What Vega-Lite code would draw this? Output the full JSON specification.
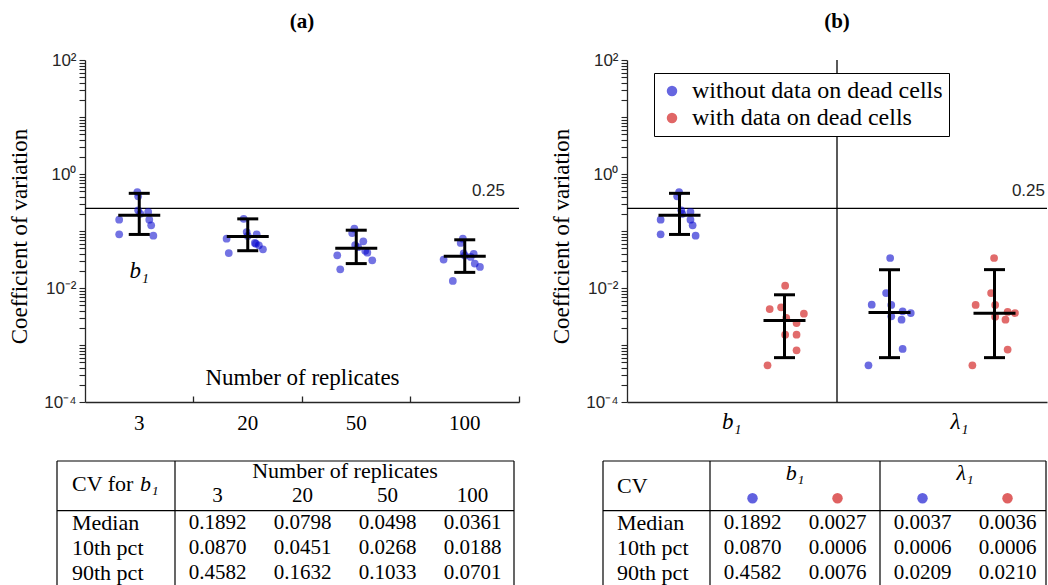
{
  "$schema": "https://vega.github.io/schema/vega-lite/v6.json",
  "padding": {"left": 8, "top": 11, "right": 0, "bottom": 0},
  "bounds": "flush",
  "columns": 2,
  "spacing": {"row": 59, "column": 108},
  "config": {
    "view": {"stroke": null},
    "font": "Liberation Serif",
    "text": {"font": "Liberation Serif", "color": "black"},
    "axis": {"ticks": true}
  },
  "resolve": {"scale": {"color": "independent"}, "legend": {"color": "independent"}},
  "datasets": {
    "points_a": [
      {"group": "3", "jitter": -0.07, "cv": 0.483},
      {"group": "3", "jitter": -0.04, "cv": 0.406},
      {"group": "3", "jitter": -0.04, "cv": 0.231},
      {"group": "3", "jitter": 0.33, "cv": 0.216},
      {"group": "3", "jitter": -0.74, "cv": 0.158},
      {"group": "3", "jitter": 0.37, "cv": 0.158},
      {"group": "3", "jitter": 0.44, "cv": 0.126},
      {"group": "3", "jitter": -0.74, "cv": 0.0875},
      {"group": "3", "jitter": 0.52, "cv": 0.0827},
      {"group": "3", "jitter": 0.04, "cv": 0.2},
      {"group": "20", "jitter": -0.15, "cv": 0.164},
      {"group": "20", "jitter": -0.04, "cv": 0.096},
      {"group": "20", "jitter": 0.33, "cv": 0.0875},
      {"group": "20", "jitter": -0.78, "cv": 0.0733},
      {"group": "20", "jitter": 0.26, "cv": 0.0616},
      {"group": "20", "jitter": 0.41, "cv": 0.0561},
      {"group": "20", "jitter": 0.56, "cv": 0.0477},
      {"group": "20", "jitter": -0.7, "cv": 0.0411},
      {"group": "20", "jitter": 0.0, "cv": 0.082},
      {"group": "20", "jitter": 0.3, "cv": 0.06},
      {"group": "50", "jitter": -0.07, "cv": 0.1096},
      {"group": "50", "jitter": -0.15, "cv": 0.0922},
      {"group": "50", "jitter": 0.26, "cv": 0.066},
      {"group": "50", "jitter": -0.04, "cv": 0.0568},
      {"group": "50", "jitter": -0.7, "cv": 0.0375},
      {"group": "50", "jitter": 0.41, "cv": 0.0416},
      {"group": "50", "jitter": 0.59, "cv": 0.0306},
      {"group": "50", "jitter": -0.59, "cv": 0.0213},
      {"group": "50", "jitter": 0.07, "cv": 0.052},
      {"group": "50", "jitter": 0.33, "cv": 0.045},
      {"group": "100", "jitter": -0.07, "cv": 0.0733},
      {"group": "100", "jitter": -0.15, "cv": 0.0616},
      {"group": "100", "jitter": -0.04, "cv": 0.0403},
      {"group": "100", "jitter": 0.33, "cv": 0.0395},
      {"group": "100", "jitter": -0.78, "cv": 0.0316},
      {"group": "100", "jitter": 0.37, "cv": 0.0269},
      {"group": "100", "jitter": 0.56, "cv": 0.0234},
      {"group": "100", "jitter": -0.44, "cv": 0.0133},
      {"group": "100", "jitter": 0.0, "cv": 0.037},
      {"group": "100", "jitter": 0.22, "cv": 0.035}
    ],
    "stats_a": [
      {"group": "3", "Median": 0.1892, "10th pct": 0.0870, "90th pct": 0.4582},
      {"group": "20", "Median": 0.0798, "10th pct": 0.0451, "90th pct": 0.1632},
      {"group": "50", "Median": 0.0498, "10th pct": 0.0268, "90th pct": 0.1033},
      {"group": "100", "Median": 0.0361, "10th pct": 0.0188, "90th pct": 0.0701}
    ],
    "points_b": [
      {"slot": "b₁ without", "series": "without data on dead cells", "jitter": -0.08, "cv": 0.483},
      {"slot": "b₁ without", "series": "without data on dead cells", "jitter": -0.15, "cv": 0.406},
      {"slot": "b₁ without", "series": "without data on dead cells", "jitter": 0.0, "cv": 0.231},
      {"slot": "b₁ without", "series": "without data on dead cells", "jitter": 0.34, "cv": 0.216},
      {"slot": "b₁ without", "series": "without data on dead cells", "jitter": -0.76, "cv": 0.158},
      {"slot": "b₁ without", "series": "without data on dead cells", "jitter": 0.34, "cv": 0.158},
      {"slot": "b₁ without", "series": "without data on dead cells", "jitter": 0.42, "cv": 0.126},
      {"slot": "b₁ without", "series": "without data on dead cells", "jitter": -0.76, "cv": 0.0875},
      {"slot": "b₁ without", "series": "without data on dead cells", "jitter": 0.53, "cv": 0.0827},
      {"slot": "b₁ without", "series": "without data on dead cells", "jitter": 0.04, "cv": 0.2},
      {"slot": "b₁ with", "series": "with data on dead cells", "jitter": -0.04, "cv": 0.01097},
      {"slot": "b₁ with", "series": "with data on dead cells", "jitter": -0.61, "cv": 0.00428},
      {"slot": "b₁ with", "series": "with data on dead cells", "jitter": -0.19, "cv": 0.00459},
      {"slot": "b₁ with", "series": "with data on dead cells", "jitter": 0.65, "cv": 0.00354},
      {"slot": "b₁ with", "series": "with data on dead cells", "jitter": 0.0, "cv": 0.00298},
      {"slot": "b₁ with", "series": "with data on dead cells", "jitter": 0.38, "cv": 0.00243},
      {"slot": "b₁ with", "series": "with data on dead cells", "jitter": -0.04, "cv": 0.00152},
      {"slot": "b₁ with", "series": "with data on dead cells", "jitter": 0.38, "cv": 0.00152},
      {"slot": "b₁ with", "series": "with data on dead cells", "jitter": 0.38, "cv": 0.000807},
      {"slot": "b₁ with", "series": "with data on dead cells", "jitter": -0.69, "cv": 0.000441},
      {"slot": "λ₁ without", "series": "without data on dead cells", "jitter": -0.04, "cv": 0.0336},
      {"slot": "λ₁ without", "series": "without data on dead cells", "jitter": -0.19, "cv": 0.00817},
      {"slot": "λ₁ without", "series": "without data on dead cells", "jitter": -0.72, "cv": 0.0051},
      {"slot": "λ₁ without", "series": "without data on dead cells", "jitter": 0.0, "cv": 0.00504},
      {"slot": "λ₁ without", "series": "without data on dead cells", "jitter": 0.42, "cv": 0.0039},
      {"slot": "λ₁ without", "series": "without data on dead cells", "jitter": 0.72, "cv": 0.00364},
      {"slot": "λ₁ without", "series": "without data on dead cells", "jitter": 0.0, "cv": 0.00319},
      {"slot": "λ₁ without", "series": "without data on dead cells", "jitter": 0.38, "cv": 0.00278},
      {"slot": "λ₁ without", "series": "without data on dead cells", "jitter": 0.42, "cv": 0.000851},
      {"slot": "λ₁ without", "series": "without data on dead cells", "jitter": -0.84, "cv": 0.000441},
      {"slot": "λ₁ with", "series": "with data on dead cells", "jitter": -0.08, "cv": 0.0336},
      {"slot": "λ₁ with", "series": "with data on dead cells", "jitter": -0.19, "cv": 0.00817},
      {"slot": "λ₁ with", "series": "with data on dead cells", "jitter": -0.76, "cv": 0.00504},
      {"slot": "λ₁ with", "series": "with data on dead cells", "jitter": -0.04, "cv": 0.00504},
      {"slot": "λ₁ with", "series": "with data on dead cells", "jitter": 0.42, "cv": 0.0038},
      {"slot": "λ₁ with", "series": "with data on dead cells", "jitter": 0.69, "cv": 0.00364},
      {"slot": "λ₁ with", "series": "with data on dead cells", "jitter": -0.04, "cv": 0.00314},
      {"slot": "λ₁ with", "series": "with data on dead cells", "jitter": 0.34, "cv": 0.00278},
      {"slot": "λ₁ with", "series": "with data on dead cells", "jitter": 0.42, "cv": 0.00083},
      {"slot": "λ₁ with", "series": "with data on dead cells", "jitter": -0.88, "cv": 0.000441}
    ],
    "stats_b": [
      {"slot": "b₁ without", "series": "without data on dead cells", "Median": 0.1892, "10th pct": 0.0870, "90th pct": 0.4582},
      {"slot": "b₁ with", "series": "with data on dead cells", "Median": 0.0027, "10th pct": 0.0006, "90th pct": 0.0076},
      {"slot": "λ₁ without", "series": "without data on dead cells", "Median": 0.0037, "10th pct": 0.0006, "90th pct": 0.0209},
      {"slot": "λ₁ with", "series": "with data on dead cells", "Median": 0.0036, "10th pct": 0.0006, "90th pct": 0.0210}
    ]
  },
  "concat": [
    {
      "width": 434,
      "height": 342,
      "title": {"text": "(a)", "font": "Liberation Serif", "fontSize": 21, "fontWeight": "bold", "color": "black", "frame": "group", "anchor": "middle", "offset": 19},
      "layer": [
        {
          "data": {"values": [{"cv": 0.25}]},
          "mark": {"type": "rule", "color": "black", "strokeWidth": 1.3},
          "encoding": {"y": {"field": "cv", "type": "quantitative"}}
        },
        {
          "data": {"name": "points_a"},
          "mark": {"type": "circle", "size": 60, "opacity": 0.55, "color": "#0000cc"},
          "encoding": {
            "x": {
              "field": "group", "type": "nominal",
              "scale": {"domain": ["3", "20", "50", "100"], "paddingInner": 0, "paddingOuter": 0},
              "axis": {
                "title": "Number of replicates", "titleY": -25, "titleBaseline": "middle",
                "titleFont": "Liberation Serif", "titleFontSize": 23, "titleFontWeight": "normal", "titleColor": "black",
                "labelAngle": 0, "labelFont": "Liberation Serif", "labelFontSize": 21, "labelColor": "black",
                "labelPadding": 16, "ticks": true, "tickSize": -6, "bandPosition": 1, "tickColor": "#262626", "tickWidth": 1.3,
                "domainColor": "#262626", "domainWidth": 1.3, "grid": false
              }
            },
            "xOffset": {"field": "jitter", "type": "quantitative", "scale": {"domain": [-2, 2]}},
            "y": {
              "field": "cv", "type": "quantitative",
              "scale": {"type": "log", "domain": [0.0001, 100], "nice": false},
              "axis": {
                "values": [0.0001,0.0002,0.0003,0.0004,0.0005,0.0006,0.0007,0.0008,0.0009,0.001,0.002,0.003,0.004,0.005,0.006,0.007,0.008,0.009,0.01,0.02,0.03,0.04,0.05,0.06,0.07,0.08,0.09,0.1,0.2,0.3,0.4,0.5,0.6,0.7,0.8,0.9,1,2,3,4,5,6,7,8,9,10,20,30,40,50,60,70,80,90,100],
                "labelExpr": "datum.value > 99 ? '10²' : abs(datum.value - 1) < 1e-6 ? '10⁰' : abs(datum.value - 0.01) < 1e-8 ? '10⁻²' : abs(datum.value - 0.0001) < 1e-10 ? '10⁻⁴' : ''",
                "labelFont": "Liberation Sans", "labelFontSize": 17, "labelColor": "#262626", "labelPadding": 3,
                "labelOverlap": false, "labelFlush": false,
                "ticks": true, "tickSize": 6, "tickColor": "#262626", "tickWidth": 1.1,
                "encode": {"ticks": {"update": {"x2": {"signal": "abs(log(datum.value)/LN10 - round(log(datum.value)/LN10)) < 0.01 ? 6 : 3.5"}}}},
                "domainColor": "#262626", "domainWidth": 1.3, "grid": false,
                "title": "Coefficient of variation", "titleFont": "Liberation Serif", "titleFontSize": 23,
                "titleFontWeight": "normal", "titleColor": "black", "titleX": -66, "titleY": 176, "titleBaseline": "middle"
              }
            }
          }
        },
        {
          "data": {"name": "stats_a"},
          "mark": {"type": "rule", "color": "black", "strokeWidth": 3},
          "encoding": {
            "x": {"field": "group", "type": "nominal"},
            "y": {"field": "10th pct", "type": "quantitative"},
            "y2": {"field": "90th pct"}
          }
        },
        {
          "data": {"name": "stats_a"},
          "mark": {"type": "tick", "color": "black", "size": 42, "thickness": 3, "opacity": 1},
          "encoding": {"x": {"field": "group", "type": "nominal"}, "y": {"field": "Median", "type": "quantitative"}}
        },
        {
          "data": {"name": "stats_a"},
          "mark": {"type": "tick", "color": "black", "size": 21, "thickness": 3, "opacity": 1},
          "encoding": {"x": {"field": "group", "type": "nominal"}, "y": {"field": "10th pct", "type": "quantitative"}}
        },
        {
          "data": {"name": "stats_a"},
          "mark": {"type": "tick", "color": "black", "size": 21, "thickness": 3, "opacity": 1},
          "encoding": {"x": {"field": "group", "type": "nominal"}, "y": {"field": "90th pct", "type": "quantitative"}}
        },
        {
          "data": {"values": [{"label": "0.25", "cv": 0.25}]},
          "mark": {"type": "text", "font": "Liberation Sans", "fontSize": 17, "color": "#262626", "align": "right", "baseline": "middle", "dx": -14, "dy": -17},
          "encoding": {
            "x": {"datum": "100", "type": "nominal", "bandPosition": 1},
            "y": {"field": "cv", "type": "quantitative"},
            "text": {"field": "label"}
          }
        },
        {
          "data": {"values": [{"label": "b₁", "group": "3", "cv": 0.02}]},
          "mark": {"type": "text", "fontSize": 23, "fontStyle": "italic", "align": "center", "baseline": "middle"},
          "encoding": {
            "x": {"field": "group", "type": "nominal"},
            "y": {"field": "cv", "type": "quantitative"},
            "text": {"field": "label"}
          }
        }
      ]
    },
    {
      "width": 420,
      "height": 342,
      "title": {"text": "(b)", "font": "Liberation Serif", "fontSize": 21, "fontWeight": "bold", "color": "black", "frame": "group", "anchor": "middle", "offset": 19},
      "layer": [
        {
          "data": {"values": [{"cv": 0.25}]},
          "mark": {"type": "rule", "color": "black", "strokeWidth": 1.3},
          "encoding": {"y": {"field": "cv", "type": "quantitative"}}
        },
        {
          "data": {"values": [{"slot": "λ₁ without"}]},
          "mark": {"type": "rule", "color": "black", "strokeWidth": 1.3},
          "encoding": {"x": {"field": "slot", "type": "nominal", "bandPosition": 0}}
        },
        {
          "data": {"name": "points_b"},
          "mark": {"type": "circle", "size": 60, "opacity": 0.58},
          "encoding": {
            "x": {
              "field": "slot", "type": "nominal",
              "scale": {"domain": ["b₁ without", "b₁ with", "λ₁ without", "λ₁ with"], "paddingInner": 0, "paddingOuter": 0},
              "axis": {
                "title": null, "ticks": false, "labelAngle": 0,
                "labelExpr": "datum.value == 'b₁ without' ? 'b₁' : datum.value == 'λ₁ without' ? 'λ₁' : ''",
                "labelOffset": {"condition": {"test": "datum.value == 'b₁ without'", "value": 62}, "value": 79},
                "labelFont": "Liberation Serif", "labelFontStyle": "italic", "labelFontSize": 23,
                "labelColor": "black", "labelPadding": 19, "domainColor": "#262626", "domainWidth": 1.3, "grid": false
              }
            },
            "xOffset": {"field": "jitter", "type": "quantitative", "scale": {"domain": [-2, 2]}},
            "y": {
              "field": "cv", "type": "quantitative",
              "scale": {"type": "log", "domain": [0.0001, 100], "nice": false},
              "axis": {
                "values": [0.0001,0.0002,0.0003,0.0004,0.0005,0.0006,0.0007,0.0008,0.0009,0.001,0.002,0.003,0.004,0.005,0.006,0.007,0.008,0.009,0.01,0.02,0.03,0.04,0.05,0.06,0.07,0.08,0.09,0.1,0.2,0.3,0.4,0.5,0.6,0.7,0.8,0.9,1,2,3,4,5,6,7,8,9,10,20,30,40,50,60,70,80,90,100],
                "labelExpr": "datum.value > 99 ? '10²' : abs(datum.value - 1) < 1e-6 ? '10⁰' : abs(datum.value - 0.01) < 1e-8 ? '10⁻²' : abs(datum.value - 0.0001) < 1e-10 ? '10⁻⁴' : ''",
                "labelFont": "Liberation Sans", "labelFontSize": 17, "labelColor": "#262626", "labelPadding": 3,
                "labelOverlap": false, "labelFlush": false,
                "ticks": true, "tickSize": 6, "tickColor": "#262626", "tickWidth": 1.1,
                "encode": {"ticks": {"update": {"x2": {"signal": "abs(log(datum.value)/LN10 - round(log(datum.value)/LN10)) < 0.01 ? 6 : 3.5"}}}},
                "domainColor": "#262626", "domainWidth": 1.3, "grid": false,
                "title": "Coefficient of variation", "titleFont": "Liberation Serif", "titleFontSize": 23,
                "titleFontWeight": "normal", "titleColor": "black", "titleX": -66, "titleY": 176, "titleBaseline": "middle"
              }
            },
            "color": {
              "field": "series", "type": "nominal",
              "scale": {"domain": ["without data on dead cells", "with data on dead cells"], "range": ["#0000cc", "#cc0000"]},
              "legend": {
                "title": null, "orient": "none", "legendX": 27, "legendY": 13, "direction": "vertical",
                "strokeColor": "black", "fillColor": "white", "padding": 6, "rowPadding": 3,
                "symbolType": "circle", "symbolSize": 110, "symbolOpacity": 0.6, "symbolStrokeWidth": 0,
                "labelFont": "Liberation Serif", "labelFontSize": 24, "labelColor": "black", "labelOffset": 8,
                "labelLimit": 400
              }
            }
          }
        },
        {
          "data": {"name": "stats_b"},
          "mark": {"type": "rule", "color": "black", "strokeWidth": 3},
          "encoding": {
            "x": {"field": "slot", "type": "nominal"},
            "y": {"field": "10th pct", "type": "quantitative"},
            "y2": {"field": "90th pct"}
          }
        },
        {
          "data": {"name": "stats_b"},
          "mark": {"type": "tick", "color": "black", "size": 42, "thickness": 3, "opacity": 1},
          "encoding": {"x": {"field": "slot", "type": "nominal"}, "y": {"field": "Median", "type": "quantitative"}}
        },
        {
          "data": {"name": "stats_b"},
          "mark": {"type": "tick", "color": "black", "size": 21, "thickness": 3, "opacity": 1},
          "encoding": {"x": {"field": "slot", "type": "nominal"}, "y": {"field": "10th pct", "type": "quantitative"}}
        },
        {
          "data": {"name": "stats_b"},
          "mark": {"type": "tick", "color": "black", "size": 21, "thickness": 3, "opacity": 1},
          "encoding": {"x": {"field": "slot", "type": "nominal"}, "y": {"field": "90th pct", "type": "quantitative"}}
        },
        {
          "data": {"values": [{"label": "0.25", "cv": 0.25}]},
          "mark": {"type": "text", "font": "Liberation Sans", "fontSize": 17, "color": "#262626", "align": "right", "baseline": "middle", "dx": -2, "dy": -17},
          "encoding": {
            "x": {"datum": "λ₁ with", "type": "nominal", "bandPosition": 1},
            "y": {"field": "cv", "type": "quantitative"},
            "text": {"field": "label"}
          }
        }
      ]
    },
    {
      "width": 434,
      "height": 124,
      "resolve": {"scale": {"x": "independent"}},
      "layer": [
        {
          "data": {"name": "stats_a"},
          "transform": [{"fold": ["Median", "10th pct", "90th pct"], "as": ["stat", "value"]}],
          "mark": {"type": "text", "fontSize": 21, "align": "center", "baseline": "middle"},
          "encoding": {
            "x": {"field": "group", "type": "nominal", "scale": {"domain": ["3", "20", "50", "100"], "range": [90, 430], "paddingInner": 0, "paddingOuter": 0}, "axis": null},
            "y": {"field": "stat", "type": "nominal", "scale": {"type": "band", "domain": ["h1", "h2", "Median", "10th pct", "90th pct"], "paddingInner": 0, "paddingOuter": 0}, "axis": null},
            "text": {"field": "value", "type": "quantitative", "format": ".4f"}
          }
        },
        {
          "data": {"name": "stats_a"},
          "transform": [{"filter": "datum.group == '3'"}, {"fold": ["Median", "10th pct", "90th pct"], "as": ["stat", "value"]}],
          "mark": {"type": "text", "fontSize": 22, "align": "left", "baseline": "middle", "dx": -145.5},
          "encoding": {
            "x": {"field": "group", "type": "nominal", "scale": {"domain": ["3", "20", "50", "100"], "range": [90, 430], "paddingInner": 0, "paddingOuter": 0}, "axis": null},
            "y": {"field": "stat", "type": "nominal", "axis": null},
            "text": {"field": "stat"}
          }
        },
        {
          "data": {"name": "stats_a"},
          "mark": {"type": "text", "fontSize": 21, "align": "center", "baseline": "middle", "dy": -2},
          "encoding": {
            "x": {"field": "group", "type": "nominal", "scale": {"domain": ["3", "20", "50", "100"], "range": [90, 430], "paddingInner": 0, "paddingOuter": 0}, "axis": null},
            "y": {"datum": "h2", "type": "nominal", "axis": null},
            "text": {"field": "group"}
          }
        },
        {
          "data": {"values": [{"label": "Number of replicates", "group": "20"}]},
          "mark": {"type": "text", "fontSize": 22, "align": "center", "baseline": "middle", "dx": 42.5, "dy": -2},
          "encoding": {
            "x": {"field": "group", "type": "nominal", "scale": {"domain": ["3", "20", "50", "100"], "range": [90, 430], "paddingInner": 0, "paddingOuter": 0}, "axis": null},
            "y": {"datum": "h1", "type": "nominal", "axis": null},
            "text": {"field": "label"}
          }
        },
        {
          "data": {"values": [{"label": "CV for", "group": "3"}]},
          "mark": {"type": "text", "fontSize": 22, "align": "left", "baseline": "middle", "dx": -145.5, "dy": -14},
          "encoding": {
            "x": {"field": "group", "type": "nominal", "scale": {"domain": ["3", "20", "50", "100"], "range": [90, 430], "paddingInner": 0, "paddingOuter": 0}, "axis": null},
            "y": {"datum": "h2", "type": "nominal", "axis": null},
            "text": {"field": "label"}
          }
        },
        {
          "data": {"values": [{"label": "b₁", "group": "3"}]},
          "mark": {"type": "text", "fontSize": 22, "fontStyle": "italic", "align": "left", "baseline": "middle", "dx": -77.5, "dy": -14},
          "encoding": {
            "x": {"field": "group", "type": "nominal", "scale": {"domain": ["3", "20", "50", "100"], "range": [90, 430], "paddingInner": 0, "paddingOuter": 0}, "axis": null},
            "y": {"datum": "h2", "type": "nominal", "axis": null},
            "text": {"field": "label"}
          }
        },
        {
          "data": {"values": [{}]},
          "mark": {"type": "rule", "color": "black", "strokeWidth": 1.2},
          "encoding": {"x": {"datum": 0, "type": "quantitative", "scale": {"domain": [0, 1], "range": [-28, 429]}, "axis": null}}
        },
        {
          "data": {"values": [{}]},
          "mark": {"type": "rule", "color": "black", "strokeWidth": 1.2},
          "encoding": {"x": {"datum": 1, "type": "quantitative", "scale": {"domain": [0, 1], "range": [-28, 429]}, "axis": null}}
        },
        {
          "data": {"values": [{}]},
          "mark": {"type": "rule", "color": "black", "strokeWidth": 1.2},
          "encoding": {"x": {"datum": "3", "type": "nominal", "bandPosition": 0, "scale": {"domain": ["3", "20", "50", "100"], "range": [90, 430], "paddingInner": 0, "paddingOuter": 0}, "axis": null}}
        },
        {
          "data": {"values": [{}]},
          "mark": {"type": "rule", "color": "black", "strokeWidth": 1.2},
          "encoding": {
            "x": {"datum": 0, "type": "quantitative", "scale": {"domain": [0, 1], "range": [-28, 429]}, "axis": null},
            "x2": {"datum": 1},
            "y": {"datum": "h1", "type": "nominal", "bandPosition": 0, "axis": null}
          }
        },
        {
          "data": {"values": [{}]},
          "mark": {"type": "rule", "color": "black", "strokeWidth": 1.2},
          "encoding": {
            "x": {"datum": 0, "type": "quantitative", "scale": {"domain": [0, 1], "range": [-28, 429]}, "axis": null},
            "x2": {"datum": 1},
            "y": {"datum": "Median", "type": "nominal", "bandPosition": 0, "axis": null}
          }
        }
      ]
    },
    {
      "width": 420,
      "height": 124,
      "resolve": {"scale": {"x": "independent"}},
      "layer": [
        {
          "data": {"name": "stats_b"},
          "transform": [{"fold": ["Median", "10th pct", "90th pct"], "as": ["stat", "value"]}],
          "mark": {"type": "text", "fontSize": 21, "align": "center", "baseline": "middle"},
          "encoding": {
            "x": {"field": "slot", "type": "nominal", "scale": {"domain": ["b₁ without", "b₁ with", "λ₁ without", "λ₁ with"], "range": [83, 423], "paddingInner": 0, "paddingOuter": 0}, "axis": null},
            "y": {"field": "stat", "type": "nominal", "scale": {"type": "band", "domain": ["h1", "h2", "Median", "10th pct", "90th pct"], "paddingInner": 0, "paddingOuter": 0}, "axis": null},
            "text": {"field": "value", "type": "quantitative", "format": ".4f"}
          }
        },
        {
          "data": {"name": "stats_b"},
          "transform": [{"filter": "datum.slot == 'b₁ without'"}, {"fold": ["Median", "10th pct", "90th pct"], "as": ["stat", "value"]}],
          "mark": {"type": "text", "fontSize": 22, "align": "left", "baseline": "middle", "dx": -135.5},
          "encoding": {
            "x": {"field": "slot", "type": "nominal", "scale": {"domain": ["b₁ without", "b₁ with", "λ₁ without", "λ₁ with"], "range": [83, 423], "paddingInner": 0, "paddingOuter": 0}, "axis": null},
            "y": {"field": "stat", "type": "nominal", "axis": null},
            "text": {"field": "stat"}
          }
        },
        {
          "data": {"values": [{"label": "CV", "slot": "b₁ without"}]},
          "mark": {"type": "text", "fontSize": 22, "align": "left", "baseline": "middle", "dx": -135.5, "dy": -12},
          "encoding": {
            "x": {"field": "slot", "type": "nominal", "scale": {"domain": ["b₁ without", "b₁ with", "λ₁ without", "λ₁ with"], "range": [83, 423], "paddingInner": 0, "paddingOuter": 0}, "axis": null},
            "y": {"datum": "h2", "type": "nominal", "axis": null},
            "text": {"field": "label"}
          }
        },
        {
          "data": {"values": [{"label": "b₁", "slot": "b₁ with"}, {"label": "λ₁", "slot": "λ₁ with"}]},
          "mark": {"type": "text", "fontSize": 22, "fontStyle": "italic", "align": "center", "baseline": "middle", "dx": -42.5},
          "encoding": {
            "x": {"field": "slot", "type": "nominal", "scale": {"domain": ["b₁ without", "b₁ with", "λ₁ without", "λ₁ with"], "range": [83, 423], "paddingInner": 0, "paddingOuter": 0}, "axis": null},
            "y": {"datum": "h1", "type": "nominal", "axis": null},
            "text": {"field": "label"}
          }
        },
        {
          "data": {"name": "stats_b"},
          "transform": [{"filter": "datum.series == 'without data on dead cells'"}],
          "mark": {"type": "circle", "size": 110, "opacity": 0.62, "color": "#0000cc"},
          "encoding": {
            "x": {"field": "slot", "type": "nominal", "scale": {"domain": ["b₁ without", "b₁ with", "λ₁ without", "λ₁ with"], "range": [83, 423], "paddingInner": 0, "paddingOuter": 0}, "axis": null},
            "y": {"datum": "h2", "type": "nominal", "axis": null}
          }
        },
        {
          "data": {"name": "stats_b"},
          "transform": [{"filter": "datum.series == 'with data on dead cells'"}],
          "mark": {"type": "circle", "size": 110, "opacity": 0.62, "color": "#cc0000"},
          "encoding": {
            "x": {"field": "slot", "type": "nominal", "scale": {"domain": ["b₁ without", "b₁ with", "λ₁ without", "λ₁ with"], "range": [83, 423], "paddingInner": 0, "paddingOuter": 0}, "axis": null},
            "y": {"datum": "h2", "type": "nominal", "axis": null}
          }
        },
        {
          "data": {"values": [{}]},
          "mark": {"type": "rule", "color": "black", "strokeWidth": 1.2},
          "encoding": {"x": {"datum": 0, "type": "quantitative", "scale": {"domain": [0, 1], "range": [-24, 419]}, "axis": null}}
        },
        {
          "data": {"values": [{}]},
          "mark": {"type": "rule", "color": "black", "strokeWidth": 1.2},
          "encoding": {"x": {"datum": 1, "type": "quantitative", "scale": {"domain": [0, 1], "range": [-24, 419]}, "axis": null}}
        },
        {
          "data": {"values": [{"slot": "b₁ without"}, {"slot": "λ₁ without"}]},
          "mark": {"type": "rule", "color": "black", "strokeWidth": 1.2},
          "encoding": {"x": {"field": "slot", "type": "nominal", "bandPosition": 0, "scale": {"domain": ["b₁ without", "b₁ with", "λ₁ without", "λ₁ with"], "range": [83, 423], "paddingInner": 0, "paddingOuter": 0}, "axis": null}}
        },
        {
          "data": {"values": [{}]},
          "mark": {"type": "rule", "color": "black", "strokeWidth": 1.2},
          "encoding": {
            "x": {"datum": 0, "type": "quantitative", "scale": {"domain": [0, 1], "range": [-24, 419]}, "axis": null},
            "x2": {"datum": 1},
            "y": {"datum": "h1", "type": "nominal", "bandPosition": 0, "axis": null}
          }
        },
        {
          "data": {"values": [{}]},
          "mark": {"type": "rule", "color": "black", "strokeWidth": 1.2},
          "encoding": {
            "x": {"datum": 0, "type": "quantitative", "scale": {"domain": [0, 1], "range": [-24, 419]}, "axis": null},
            "x2": {"datum": 1},
            "y": {"datum": "Median", "type": "nominal", "bandPosition": 0, "axis": null}
          }
        }
      ]
    }
  ]
}
